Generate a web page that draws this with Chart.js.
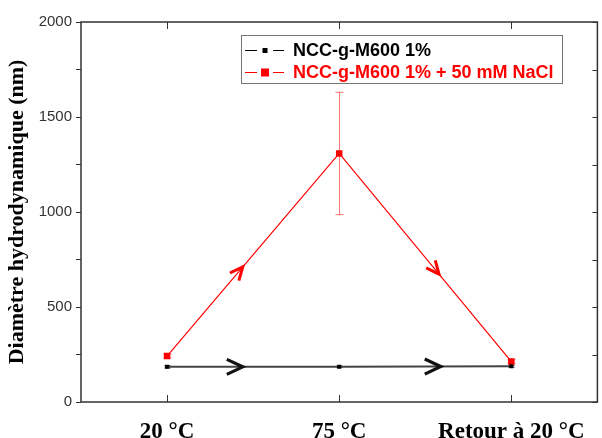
<!DOCTYPE html>
<html>
<head>
<meta charset="utf-8">
<script src="https://cdn.jsdelivr.net/npm/chart.js@4/dist/chart.umd.min.js"></script>
<style>
html,body{margin:0;padding:0;background:#fff;}
#wrap{width:602px;height:438px;}
</style>
</head>
<body>
<div id="wrap"><canvas id="c" width="602" height="438"></canvas></div>
<script>
// ---- data ----
const categories = ['20 °C', '75 °C', 'Retour à 20 °C'];
const pureLabel = 'NCC-g-M600 1%';
const pureValues = [185, 185, 188];
const pureErrors = [6, 4, 5];
const saltLabel = 'NCC-g-M600 1% + 50 mM NaCl';
const saltValues = [242, 1308, 213];
const saltErrors = [10, 322, 10];
const yMin = 0, yMax = 2000, yStep = 250, yLabelStep = 500;
const yTitle = 'Diamètre hydrodynamique (nm)';
// arrow positions along the category axis (fraction of segments)
const pureArrows = [0.44, 1.59];
const saltArrows = [0.44, 1.58];

const errorPlugin = {
  id: 'errbars',
  beforeDatasetsDraw(chart) {
    const {ctx, scales: {x, y}} = chart;
    const sets = [
      {v: pureValues, e: pureErrors, c: '#222', cap: 6},
      {v: saltValues, e: saltErrors, c: 'rgba(255,0,0,0.55)', cap: 8}
    ];
    ctx.save();
    ctx.lineWidth = 1;
    sets.forEach(s => {
      ctx.strokeStyle = s.c;
      s.v.forEach((v, i) => {
        const px = Math.round(x.getPixelForValue(i)) + 0.5;
        const yt = y.getPixelForValue(v + s.e[i]);
        const yb = y.getPixelForValue(v - s.e[i]);
        ctx.beginPath();
        ctx.moveTo(px, yt); ctx.lineTo(px, yb);
        ctx.moveTo(px - s.cap / 2, yt); ctx.lineTo(px + s.cap / 2, yt);
        ctx.moveTo(px - s.cap / 2, yb); ctx.lineTo(px + s.cap / 2, yb);
        ctx.stroke();
      });
    });
    ctx.restore();
  }
};

function interp(scaleX, scaleY, vals, t) {
  const i = Math.floor(t), f = t - i;
  const x0 = scaleX.getPixelForValue(i), x1 = scaleX.getPixelForValue(i + 1);
  const y0 = scaleY.getPixelForValue(vals[i]), y1 = scaleY.getPixelForValue(vals[i + 1]);
  return {x: x0 + (x1 - x0) * f, y: y0 + (y1 - y0) * f, ang: Math.atan2(y1 - y0, x1 - x0)};
}

function chevron(ctx, p, size, spread, color, lw) {
  ctx.save();
  ctx.translate(p.x, p.y);
  ctx.rotate(p.ang);
  ctx.strokeStyle = color;
  ctx.lineWidth = lw;
  ctx.lineCap = 'butt';
  ctx.lineJoin = 'miter';
  ctx.beginPath();
  ctx.moveTo(-size, -size * spread);
  ctx.lineTo(0, 0);
  ctx.lineTo(-size, size * spread);
  ctx.stroke();
  ctx.restore();
}

const framePlugin = {
  id: 'frame',
  afterDatasetsDraw(chart) {
    const {ctx, chartArea: a, scales: {x, y}} = chart;
    ctx.save();
    // arrows
    pureArrows.forEach(t => chevron(ctx, interp(x, y, pureValues, t), 16, 0.47, '#111', 3.2));
    saltArrows.forEach(t => chevron(ctx, interp(x, y, saltValues, t), 13, 0.45, '#ff0000', 3));
    // frame
    ctx.strokeStyle = '#333';
    ctx.lineWidth = 1.5;
    ctx.strokeRect(a.left, a.top, a.right - a.left, a.bottom - a.top);
    // inward ticks: right side (y) and top/bottom (x)
    ctx.lineWidth = 1;
    ctx.beginPath();
    y.ticks.forEach(t => {
      const py = Math.round(y.getPixelForValue(t.value)) + 0.5;
      ctx.moveTo(a.right, py); ctx.lineTo(a.right - 5, py);
    });
    categories.forEach((c, i) => {
      const px = Math.round(x.getPixelForValue(i)) + 0.5;
      ctx.moveTo(px, a.bottom); ctx.lineTo(px, a.bottom - 7);
      ctx.moveTo(px, a.top); ctx.lineTo(px, a.top + 7);
    });
    ctx.stroke();

    // legend
    const lx = 241, ly = 35, lw = 321, lh = 48;
    ctx.fillStyle = '#fff';
    ctx.fillRect(lx, ly, lw, lh);
    ctx.strokeStyle = '#777';
    ctx.lineWidth = 1;
    ctx.strokeRect(lx + 0.5, ly + 0.5, lw, lh);
    const rows = [
      {label: chart.data.datasets[0].label, color: '#000', ms: 5, y: ly + 15},
      {label: chart.data.datasets[1].label, color: '#ff0000', ms: 8, y: ly + 37}
    ];
    ctx.font = 'bold 18px "Liberation Sans", Arial, sans-serif';
    ctx.textBaseline = 'middle';
    rows.forEach(r => {
      ctx.strokeStyle = r.color;
      ctx.lineWidth = 1;
      ctx.beginPath();
      ctx.moveTo(lx + 4, r.y + 0.5); ctx.lineTo(lx + 16, r.y + 0.5);
      ctx.moveTo(lx + 32, r.y + 0.5); ctx.lineTo(lx + 43, r.y + 0.5);
      ctx.stroke();
      ctx.fillStyle = r.color;
      ctx.fillRect(lx + 24 - r.ms / 2, r.y + 0.5 - r.ms / 2, r.ms, r.ms);
      ctx.fillText(r.label, lx + 52, r.y + 1);
    });
    ctx.restore();
  }
};

new Chart(document.getElementById('c'), {
  type: 'line',
  data: {
    labels: categories,
    datasets: [
      {
        label: pureLabel,
        data: pureValues,
        borderColor: '#444',
        backgroundColor: '#000',
        borderWidth: 2,
        pointStyle: 'rect',
        pointRadius: 2.8,
        pointBorderWidth: 0,
        tension: 0
      },
      {
        label: saltLabel,
        data: saltValues,
        borderColor: '#ff0000',
        backgroundColor: '#ff0000',
        borderWidth: 1.2,
        pointStyle: 'rect',
        pointRadius: 4.6,
        pointBorderWidth: 0,
        tension: 0
      }
    ]
  },
  options: {
    responsive: false,
    animation: false,
    devicePixelRatio: 1,
    layout: {padding: {top: 22, right: 4, left: 0, bottom: 0}},
    plugins: {legend: {display: false}, tooltip: {enabled: false}, title: {display: false}},
    scales: {
      x: {
        type: 'category',
        offset: true,
        grid: {display: false, drawTicks: false},
        border: {display: false},
        ticks: {
          color: '#000',
          padding: 16,
          maxRotation: 0,
          autoSkip: false,
          font: {family: '"Liberation Serif", "Times New Roman", serif', size: 23, weight: 'bold'}
        },
        afterFit(s) { s.height = 36; }
      },
      y: {
        min: yMin,
        max: yMax,
        grid: {drawOnChartArea: false, drawTicks: true, tickLength: 5, color: '#333', lineWidth: 1},
        border: {display: false},
        ticks: {
          stepSize: yStep,
          autoSkip: false,
          padding: 4,
          color: '#333',
          font: {family: '"Liberation Sans", Arial, sans-serif', size: 15},
          callback: v => (v % yLabelStep === 0 ? v : '')
        },
        title: {
          display: true,
          text: yTitle,
          color: '#000',
          padding: {top: 4, bottom: 0},
          font: {family: '"Liberation Serif", "Times New Roman", serif', size: 22, weight: 'bold'}
        },
        afterFit(s) { s.width = 81; }
      }
    }
  },
  plugins: [errorPlugin, framePlugin]
});
</script>
</body>
</html>
